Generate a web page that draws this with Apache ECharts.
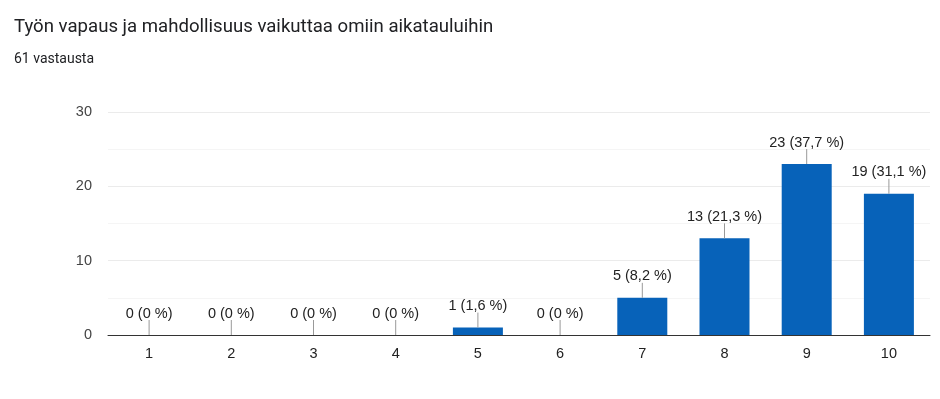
<!DOCTYPE html>
<html>
<head>
<meta charset="utf-8">
<script src="https://cdn.jsdelivr.net/npm/echarts@6/dist/echarts.min.js"></script>
<style>
  html, body { margin: 0; padding: 0; background: #fff; }
  #chart { width: 940px; height: 399px; }
</style>
</head>
<body>
<div id="chart"></div>
<script>
// data
const categories = ["1", "2", "3", "4", "5", "6", "7", "8", "9", "10"];
const counts = [0, 0, 0, 0, 1, 0, 5, 13, 23, 19];
const totalAnswers = 61;
const yTicks = { min: 0, max: 30, interval: 10 };

function pctLabel(v) {
  if (v === 0) return "0 (0 %)";
  return v + " (" + (v / totalAnswers * 100).toFixed(1).replace(".", ",") + " %)";
}

let myChart = echarts.init(document.getElementById("chart")),
  option;

option = {
  animation: false,
  title: [
    {
      text: "Työn vapaus ja mahdollisuus vaikuttaa omiin aikatauluihin",
      left: 9,
      top: 13,
      textStyle: { fontFamily: "Roboto", fontSize: 18.6, fontWeight: "normal", color: "#202124" }
    },
    {
      text: totalAnswers + " vastausta",
      left: 9,
      top: 47,
      textStyle: { fontFamily: "Roboto", fontSize: 14, fontWeight: "normal", color: "#202124" }
    }
  ],
  grid: { left: 108, right: 10, top: 112, bottom: 64 },
  xAxis: {
    type: "category",
    data: categories,
    axisTick: { show: false },
    axisLine: { lineStyle: { color: "#333", width: 1 } },
    axisLabel: { margin: 11, fontFamily: "Liberation Sans", fontSize: 14.5, color: "#222" }
  },
  yAxis: {
    type: "value",
    min: yTicks.min,
    max: yTicks.max,
    interval: yTicks.interval,
    axisLabel: { margin: 16, fontFamily: "Liberation Sans", fontSize: 14.5, color: "#444" },
    splitLine: { lineStyle: { color: "#ebebeb" } },
    minorTick: { show: false, splitNumber: 2 },
    minorSplitLine: { show: true, lineStyle: { color: "#f5f5f5" } }
  },
  series: [
    {
      type: "bar",
      data: counts,
      barWidth: 50,
      itemStyle: { color: "#0762B9" }
    },
    {
      type: "custom",
      data: counts.map((v, i) => [i, v]),
      z: 5,
      renderItem: function (params, api) {
        let p = api.coord([api.value(0), api.value(1)]);
        return {
          type: "group",
          children: [
            {
              type: "line",
              shape: { x1: p[0], y1: p[1], x2: p[0], y2: p[1] - 15 },
              style: { stroke: "#999", lineWidth: 1 }
            },
            {
              type: "text",
              style: {
                x: p[0],
                y: p[1] - 14,
                text: pctLabel(api.value(1)),
                textAlign: "center",
                textVerticalAlign: "bottom",
                fill: "#222",
                font: "14.5px 'Liberation Sans'"
              }
            }
          ]
        };
      }
    }
  ]
};

if (option && typeof option === "object") myChart.setOption(option);
</script>
</body>
</html>
